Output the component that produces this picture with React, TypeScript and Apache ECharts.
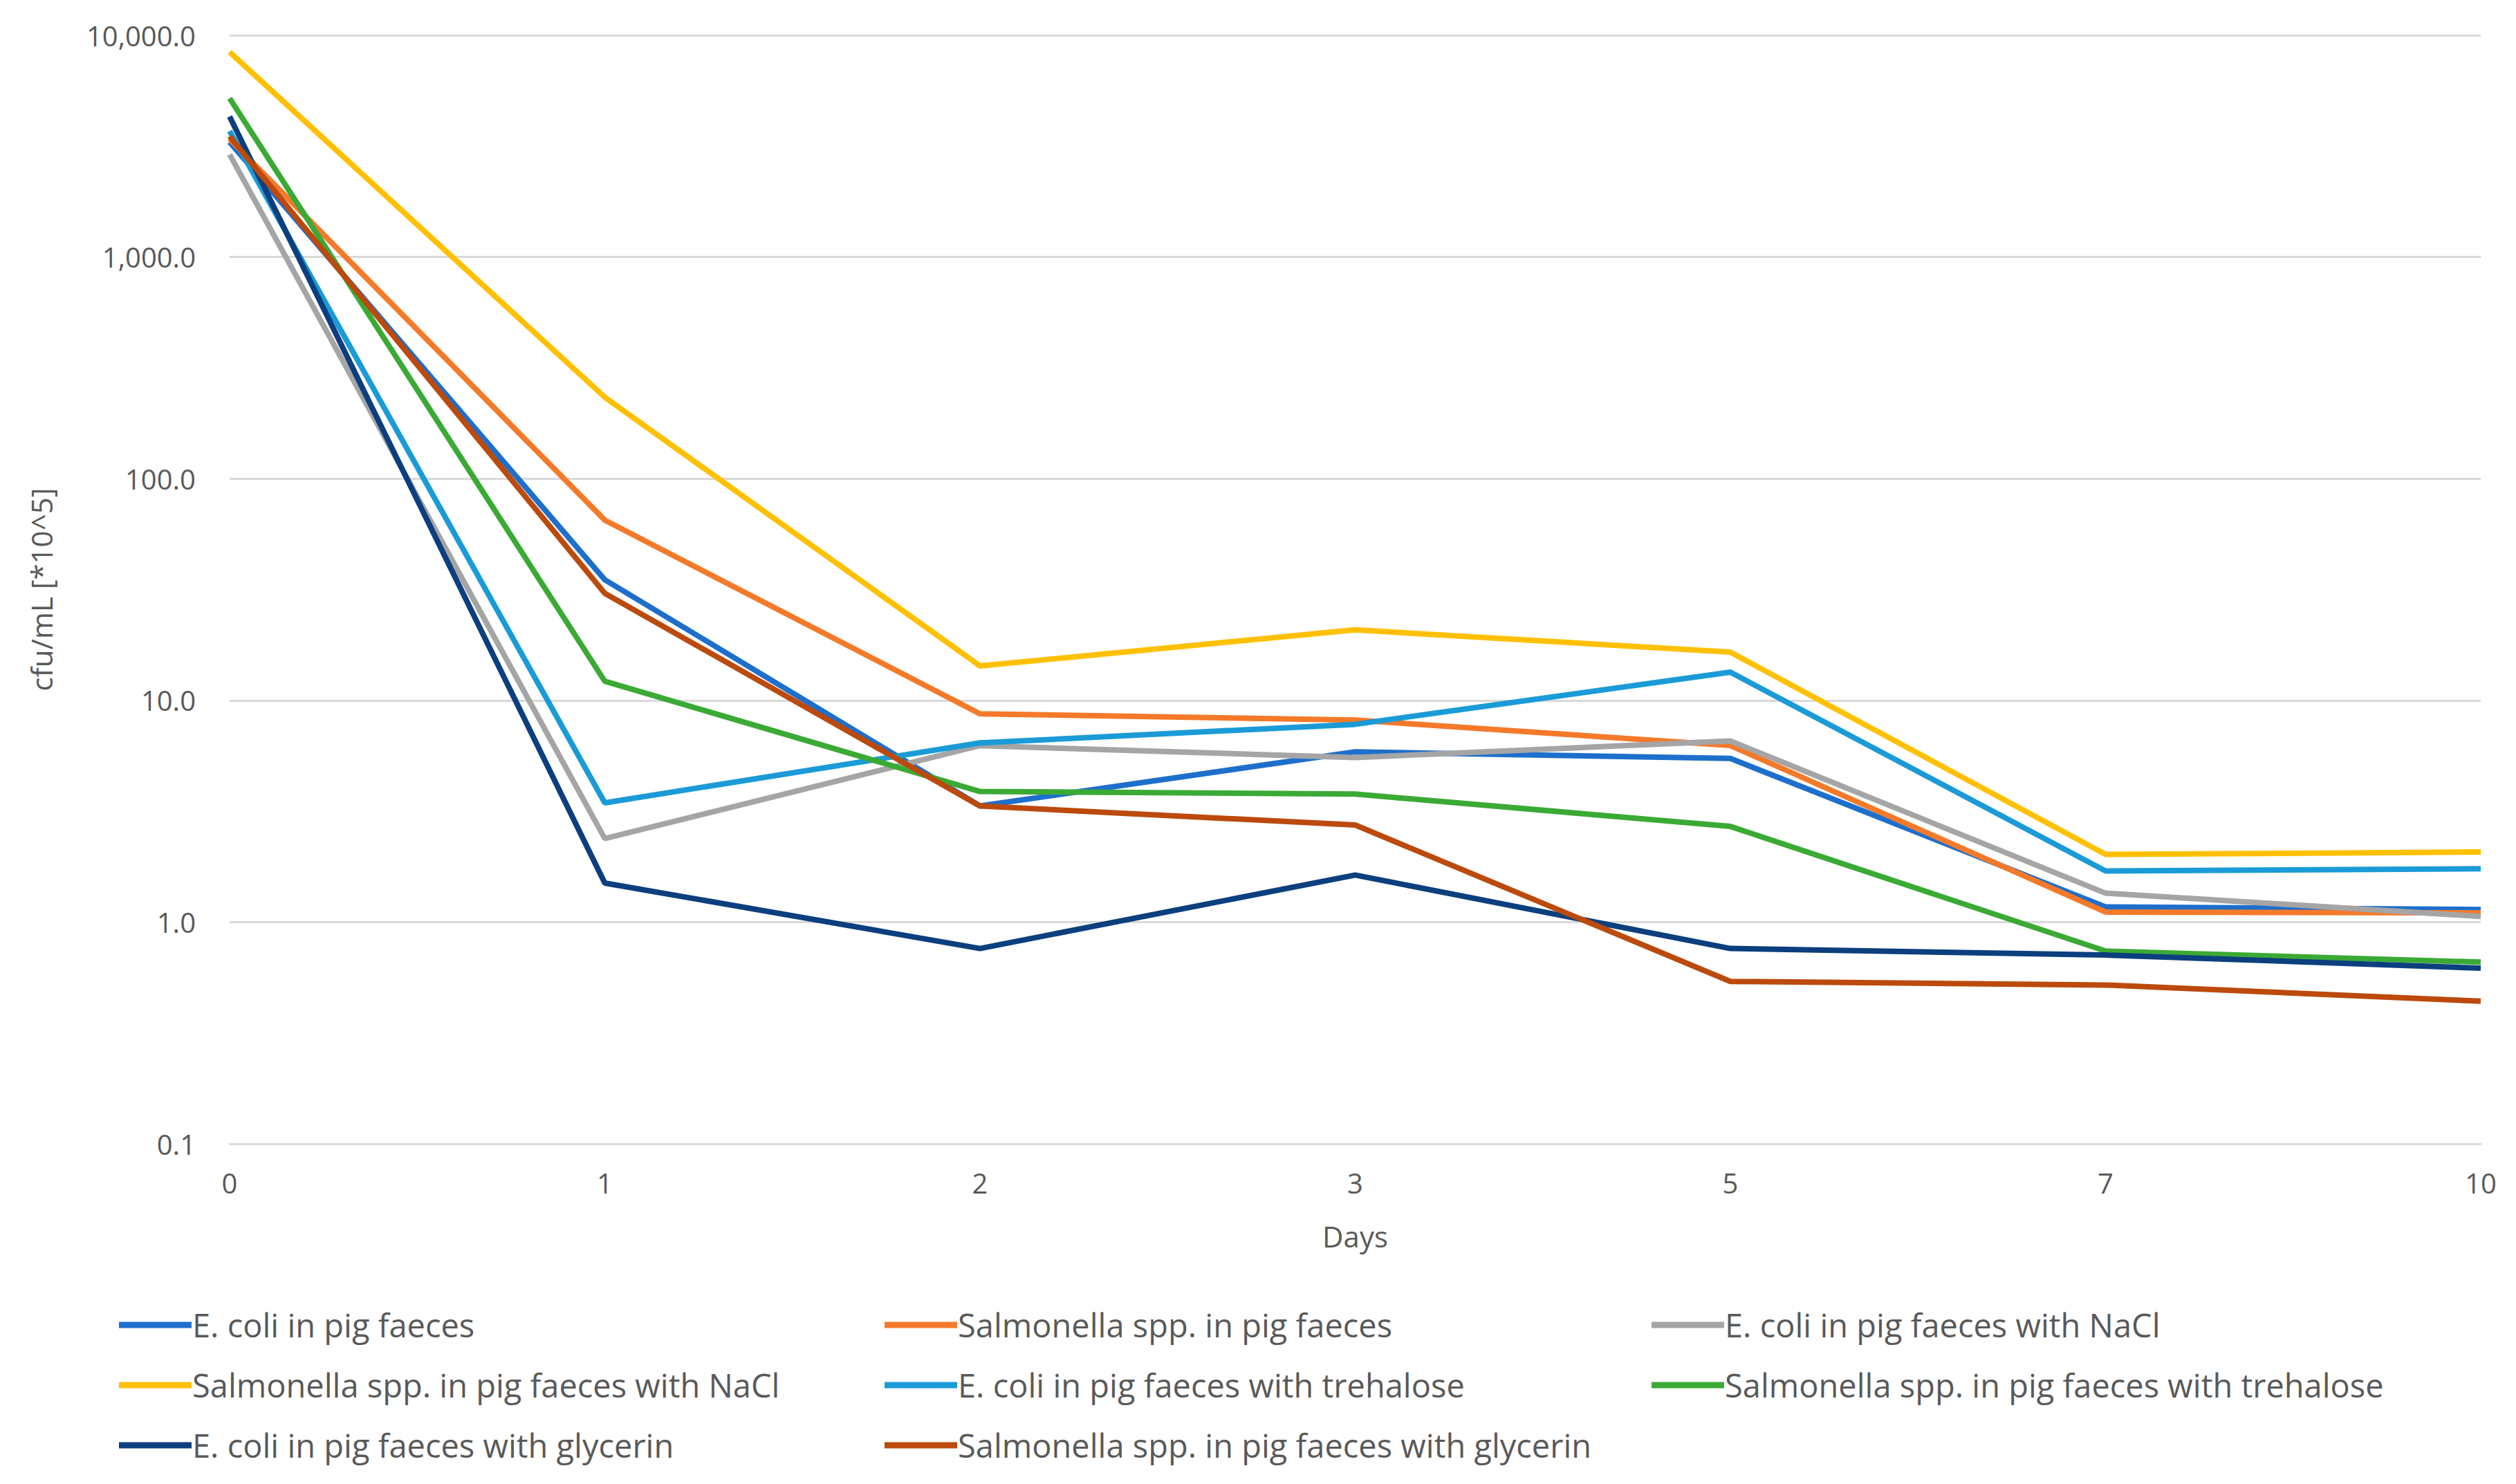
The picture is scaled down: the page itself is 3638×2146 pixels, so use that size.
import React, { useEffect, useRef } from "react";
import * as echarts from "echarts";

const days = ["0", "1", "2", "3", "5", "7", "10"];

const seriesNames = [
  "E. coli in pig faeces",
  "Salmonella spp. in pig faeces",
  "E. coli in pig faeces with NaCl",
  "Salmonella spp. in pig faeces with NaCl",
  "E. coli in pig faeces with trehalose",
  "Salmonella spp. in pig faeces with trehalose",
  "E. coli in pig faeces with glycerin",
  "Salmonella spp. in pig faeces with glycerin",
];

const ecoli = [3300, 35, 3.34, 5.86, 5.47, 1.17, 1.14];
const salm = [3400, 65, 8.7, 8.15, 6.26, 1.11, 1.1];
const ecoliNaCl = [2900, 2.38, 6.25, 5.52, 6.56, 1.35, 1.06];
const salmNaCl = [8400, 233, 14.3, 20.8, 16.5, 2.02, 2.07];
const ecoliTre = [3700, 3.45, 6.43, 7.8, 13.4, 1.7, 1.74];
const salmTre = [5200, 12.2, 3.88, 3.78, 2.7, 0.74, 0.66];
const ecoliGly = [4300, 1.5, 0.76, 1.63, 0.76, 0.71, 0.62];
const salmGly = [3500, 30.4, 3.34, 2.74, 0.54, 0.52, 0.44];

const allValues = [ecoli, salm, ecoliNaCl, salmNaCl, ecoliTre, salmTre, ecoliGly, salmGly];

const colors = [
  "#1E6FCC",
  "#F47A2A",
  "#A5A5A5",
  "#FFC000",
  "#1A9BD7",
  "#3BAA35",
  "#0B3F7E",
  "#BB4A0C",
];

const FONT = "'Open Sans', 'Noto Sans', sans-serif";
const TXT = "#595959";

export default function App() {
  const ref = useRef<HTMLDivElement>(null);

  useEffect(() => {
    document.body.style.margin = "0";
    if (!ref.current) return;
    const chart = echarts.init(ref.current, undefined, { renderer: "svg" });

    const legendCommon = {
      orient: "vertical" as const,
      top: 1884,
      itemWidth: 105,
      itemHeight: 9,
      itemGap: 33,
      icon: "rect",
      textStyle: { fontFamily: FONT, fontSize: 47, color: TXT, lineHeight: 54, padding: [0, 0, 0, -4] },
    };

    chart.setOption({
      animation: false,
      backgroundColor: "#ffffff",
      color: colors,
      grid: { left: 332, right: 51, top: 51, bottom: 492, containLabel: false },
      legend: [
        { ...legendCommon, left: 167, data: [seriesNames[0], seriesNames[3], seriesNames[6]] },
        { ...legendCommon, left: 1274, data: [seriesNames[1], seriesNames[4], seriesNames[7]] },
        { ...legendCommon, left: 2383, data: [seriesNames[2], seriesNames[5]] },
      ],
      xAxis: {
        type: "category",
        data: days,
        boundaryGap: false,
        name: "Days",
        nameLocation: "middle",
        nameGap: 112,
        nameTextStyle: { fontFamily: FONT, fontSize: 42, color: TXT },
        axisLine: { show: true, lineStyle: { color: "#D9D9D9", width: 3 } },
        axisTick: { show: false },
        axisLabel: { fontFamily: FONT, fontSize: 40, color: TXT, margin: 36 },
        splitLine: { show: false },
      },
      yAxis: {
        type: "log",
        logBase: 10,
        min: 0.1,
        max: 10000,
        interval: 1,
        name: "cfu/mL [*10^5]",
        nameLocation: "middle",
        nameGap: 252,
        nameTextStyle: { fontFamily: FONT, fontSize: 42, color: TXT },
        axisLine: { show: false },
        axisTick: { show: false },
        axisLabel: {
          fontFamily: FONT,
          fontSize: 40,
          color: TXT,
          margin: 49,
          formatter: (v: number) =>
            Number(v).toLocaleString("en-US", { minimumFractionDigits: 1, maximumFractionDigits: 1 }),
        },
        splitLine: { show: true, lineStyle: { color: "#D9D9D9", width: 3 } },
      },
      series: allValues.map((vals, i) => ({
        name: seriesNames[i],
        type: "line",
        data: vals,
        showSymbol: false,
        symbol: "none",
        lineStyle: { width: 8, color: colors[i] },
        itemStyle: { color: colors[i] },
      })),
    });

    return () => chart.dispose();
  }, []);

  return <div ref={ref} style={{ width: 3638, height: 2146 }} />;
}
